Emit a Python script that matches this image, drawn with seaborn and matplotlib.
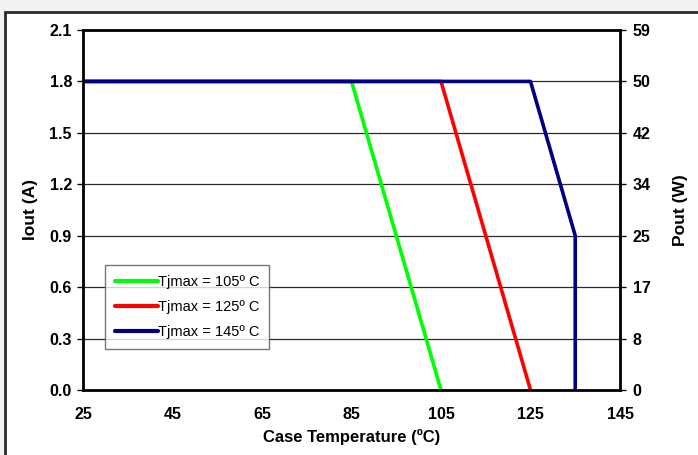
import pandas as pd
import seaborn as sns
from matplotlib import pyplot as plt
from matplotlib.patches import Rectangle

# derating curves, Iout (A) vs case temperature (C)
temp_105 = [25, 85, 105]
iout_105 = [1.8, 1.8, 0.0]
temp_125 = [25, 105, 125]
iout_125 = [1.8, 1.8, 0.0]
temp_145 = [25, 125, 135, 135]
iout_145 = [1.8, 1.8, 0.9, 0.0]

labels = ["Tjmax = 105º C", "Tjmax = 125º C", "Tjmax = 145º C"]
colors = ["#00ff00", "#ff0000", "#000080"]

x_ticks = [25, 45, 65, 85, 105, 125, 145]
y_ticks = [0.0, 0.3, 0.6, 0.9, 1.2, 1.5, 1.8, 2.1]
pout_labels = ["0", "8", "17", "25", "34", "42", "50", "59"]


def _build_frame():
    parts = []
    for lab, t, i in zip(labels, [temp_105, temp_125, temp_145],
                         [iout_105, iout_125, iout_145]):
        parts.append(pd.DataFrame({"temp": t, "iout": i, "curve": lab}))
    return pd.concat(parts, ignore_index=True)


def _plot(df):
    sns.set_style("white")
    plt.rcParams["font.family"] = ["Liberation Sans", "DejaVu Sans"]
    plt.rcParams.update({"text.color": "black", "axes.labelcolor": "black",
                         "xtick.color": "black", "ytick.color": "black"})

    fig = plt.figure(figsize=(6.98, 4.55), dpi=100)
    fig.patch.set_facecolor("#f2f2f2")
    # white panel with dark frame
    fig.patches.append(Rectangle((5 / 698, -0.05), 1.0, 1 - 12 / 455 + 0.05,
                                 transform=fig.transFigure, facecolor="white",
                                 edgecolor="#2b2b2b", linewidth=2, zorder=-5))

    ax = fig.add_axes([83 / 698, 65 / 455, 537 / 698, 360 / 455])
    ax.set_facecolor("white")
    for lab, c in zip(labels, colors):
        sub = df[df["curve"] == lab]
        sns.lineplot(x=sub["temp"].values, y=sub["iout"].values, sort=False,
                     estimator=None, color=c, linewidth=2.6, ax=ax, label=lab)

    ax.set_xlim(25, 145)
    ax.set_ylim(0, 2.1)
    ax.set_xticks(x_ticks)
    ax.set_yticks(y_ticks)
    ax.set_yticklabels(["{:.1f}".format(v) for v in y_ticks])
    ax.grid(axis="y", color="#2a2a2a", linewidth=0.9)
    ax.set_axisbelow(True)
    for sp in ax.spines.values():
        sp.set_visible(True)
        sp.set_color("black")
        sp.set_linewidth(2)
    ax.tick_params(axis="both", direction="out", length=4, width=1,
                   labelsize=11.5, colors="black", pad=4)
    ax.tick_params(axis="x", pad=8)
    for t in ax.get_xticklabels() + ax.get_yticklabels():
        t.set_fontweight("bold")
    ax.set_xlabel("Case Temperature (ºC)", fontsize=12, fontweight="bold",
                  labelpad=5, color="black")
    ax.set_ylabel("Iout (A)", fontsize=12.5, fontweight="bold", labelpad=8,
                  color="black")

    ax2 = ax.twinx()
    ax2.set_ylim(0, 2.1)
    ax2.set_yticks(y_ticks)
    ax2.set_yticklabels(pout_labels)
    ax2.tick_params(axis="y", direction="out", length=4, width=1,
                    labelsize=11.5, pad=5, colors="black")
    for t in ax2.get_yticklabels():
        t.set_fontweight("bold")
    for sp in ax2.spines.values():
        sp.set_visible(False)
    ax2.set_ylabel("Pout (W)", fontsize=12.5, fontweight="bold", labelpad=16,
                   color="black")

    leg = ax.legend(loc="upper left", bbox_to_anchor=(0.041, 0.347),
                    frameon=True, fancybox=False, fontsize=10.5,
                    handlelength=2.9, handletextpad=0.0, borderpad=0.7,
                    labelspacing=0.75, borderaxespad=0)
    leg.get_frame().set_edgecolor("#555555")
    leg.get_frame().set_linewidth(1)
    for t in leg.get_texts():
        t.set_color("black")
    for h in leg.get_lines():
        h.set_linewidth(3)
    return fig


df = _build_frame()
fig = _plot(df)
fig.savefig("out.png", dpi=100, facecolor=fig.get_facecolor())
